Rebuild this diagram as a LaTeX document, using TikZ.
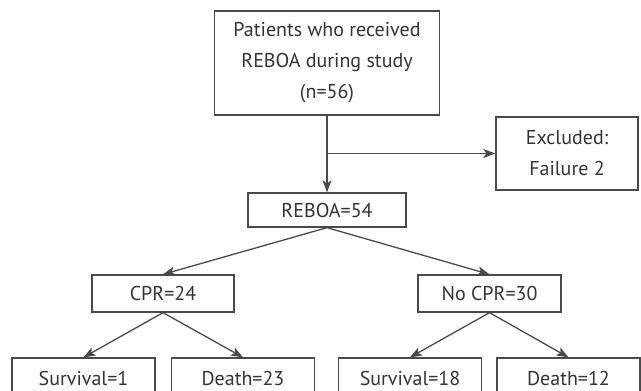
\documentclass[tikz,border=0pt]{standalone}
\usepackage{fontspec}
\setmainfont{PT Sans}
\usepackage{tikz}
\usetikzlibrary{arrows.meta}
\definecolor{linegray}{HTML}{4A4A4A}
\definecolor{textgray}{HTML}{333333}

\begin{document}
\begin{tikzpicture}[x=1pt,y=-1pt,
  box/.style={draw=linegray,line width=1.3pt,text=textgray,inner sep=0pt,
    align=center,font=\fontsize{20}{31}\selectfont},
  leaf/.style={box,minimum width=143pt,minimum height=40pt},
  arr/.style={draw=linegray,line width=1.3pt,
    -{Stealth[length=12pt,width=9pt,inset=3pt]}}]
\useasboundingbox (0,0) rectangle (641,391);
\clip (0,0) rectangle (641,391);

\node[box,minimum width=225pt,minimum height=104pt] (patients) at (327,63)
  {Patients who received\\REBOA during study\\(n=56)};
\node[box,minimum width=142pt,minimum height=73pt] (excluded) at (567,153.5)
  {Excluded:\\Failure 2};
\node[box,minimum width=158pt,minimum height=34pt] (reboa) at (327,210) {REBOA=54};
\node[box,minimum width=142pt,minimum height=37pt] (cpr) at (163,293.5) {CPR=24};
\node[box,minimum width=143pt,minimum height=37pt] (nocpr) at (489.5,293.5) {No CPR=30};

\node[leaf] (surv1) at (83.5,378) {Survival=1};
\node[leaf] (death23) at (243,378) {Death=23};
\node[leaf] (surv18) at (410,378) {Survival=18};
\node[leaf] (death12) at (568.5,378) {Death=12};

\coordinate (split) at (patients.south |- excluded.west);
\draw[arr] (patients.south) -- (reboa.north);
\draw[arr] (split) -- (excluded.west);
\draw[arr] (reboa.south) -- (cpr.north);
\draw[arr] (reboa.south) -- (nocpr.north);
\draw[arr] (cpr.south) -- (surv1.north);
\draw[arr] (cpr.south) -- (death23.north);
\draw[arr] (nocpr.south) -- (surv18.north);
\draw[arr] (nocpr.south) -- (death12.north);
\end{tikzpicture}
\end{document}
